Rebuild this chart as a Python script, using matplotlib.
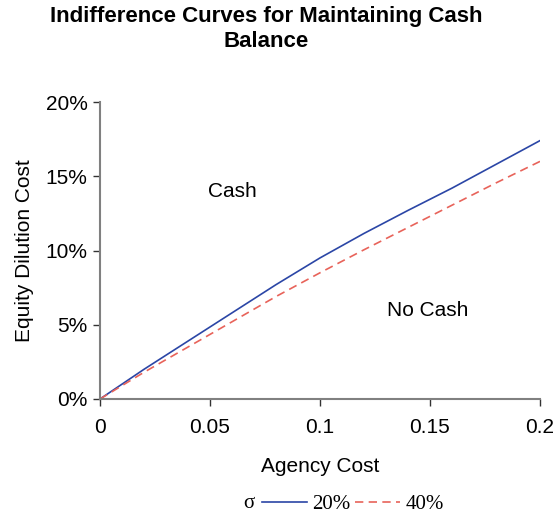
import matplotlib
matplotlib.use("Agg")
import matplotlib.pyplot as plt
from matplotlib.ticker import FuncFormatter, FixedLocator

agency_cost = [0.0, 0.01, 0.02, 0.03, 0.04, 0.05, 0.06, 0.07, 0.08, 0.09, 0.10,
               0.12, 0.14, 0.15, 0.16, 0.18, 0.20]
dilution_20 = [0.0, 0.010, 0.020, 0.0295, 0.039, 0.0485, 0.058, 0.0675, 0.077, 0.086, 0.095,
               0.1115, 0.127, 0.1345, 0.142, 0.158, 0.174]
dilution_40 = [0.0, 0.009, 0.018, 0.0265, 0.035, 0.0435, 0.052, 0.0605, 0.069, 0.077, 0.085,
               0.1005, 0.1155, 0.123, 0.1305, 0.1455, 0.160]
series_labels = ["20%", "40%"]
x_ticks = [0, 0.05, 0.1, 0.15, 0.2]
y_ticks = [0, 0.05, 0.10, 0.15, 0.20]

plt.rcParams['font.family'] = ['Liberation Sans', 'DejaVu Sans']

fig = plt.figure(figsize=(5.55, 5.2), dpi=100)
ax = fig.add_axes([100/555, 1-399/520, 440/555, 297/520])

ax.plot(agency_cost, dilution_20, color='#2B46A6', lw=1.2, label=series_labels[0])
ax.plot(agency_cost, dilution_40, color='#E8635A', lw=1.2, ls=(0, (5, 3.2)), label=series_labels[1])

ax.set_xlim(0, 0.2)
ax.set_ylim(0, 0.2)
ax.xaxis.set_major_locator(FixedLocator(x_ticks))
ax.yaxis.set_major_locator(FixedLocator(y_ticks))
ax.xaxis.set_major_formatter(FuncFormatter(lambda v, p: f"{v:g}"))
ax.yaxis.set_major_formatter(FuncFormatter(lambda v, p: f"{v*100:.0f}%"))
for s in ['top', 'right']:
    ax.spines[s].set_visible(False)
for s in ['left', 'bottom']:
    ax.spines[s].set_color('#808080')
    ax.spines[s].set_linewidth(1.5)
ax.tick_params(axis='both', direction='out', length=5, width=1, color='#333333',
               labelsize=15, pad=4)
ax.tick_params(axis='x', pad=9)

ax.set_xlabel("Agency Cost", fontsize=15, labelpad=14)
ax.set_ylabel("Equity Dilution Cost", fontsize=15, labelpad=8)

ax.text(0.06, 0.14, "Cash", fontsize=15, ha='center', va='center')
ax.text(0.149, 0.0595, "No Cash", fontsize=15, ha='center', va='center')

fig.text(266/555, 1-29/520, "Indifference Curves for Maintaining Cash\nBalance",
         ha='center', va='center', fontsize=16, fontweight='bold', linespacing=1.2)

fig.text(249/555, 1-504/520, "σ", fontsize=15, ha='center', va='center',
         family=['Liberation Serif', 'DejaVu Serif'])
leg = fig.legend(loc='center left', bbox_to_anchor=(262/555, 1-504/520), ncol=2,
                 frameon=False, prop={'family': 'Liberation Serif', 'size': 15},
                 handlelength=2.15, handletextpad=0.25, columnspacing=0.25,
                 borderaxespad=0, borderpad=0)

fig.savefig("out.png", dpi=100)
